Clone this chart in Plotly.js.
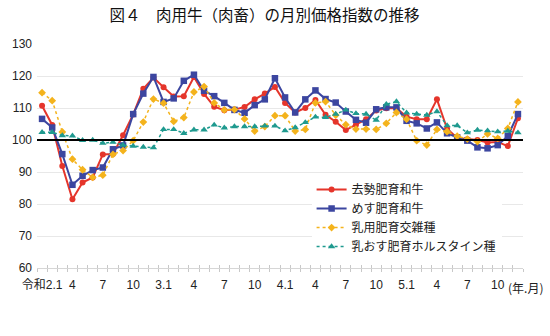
<!DOCTYPE html>
<html><head><meta charset="utf-8">
<script src="https://cdn.plot.ly/plotly-3.0.1.min.js"></script>
<style>html,body{margin:0;padding:0;background:#fff}#chart{width:550px;height:336px}</style>
</head><body><div id="chart"></div>
<script>
// Months: 令和2年1月 (2020.1) .. 令和5年12月 (2023.12)
const months = [
 '2.1','2.2','2.3','2.4','2.5','2.6','2.7','2.8','2.9','2.10','2.11','2.12',
 '3.1','3.2','3.3','3.4','3.5','3.6','3.7','3.8','3.9','3.10','3.11','3.12',
 '4.1','4.2','4.3','4.4','4.5','4.6','4.7','4.8','4.9','4.10','4.11','4.12',
 '5.1','5.2','5.3','5.4','5.5','5.6','5.7','5.8','5.9','5.10','5.11','5.12'];
const seriesNames = ['去勢肥育和牛','めす肥育和牛','乳用肥育交雑種','乳おす肥育ホルスタイン種'];
const kyosei = [110.7,104.7,91.9,81.5,86.7,88.3,95.5,95.6,101.5,108,116,119.5,
 116.5,113.6,113.7,119.7,114.4,110.4,109.3,109.5,110.3,112.7,114.5,116.6,
 111.6,108.6,110,112.5,107.9,105.7,103.1,104.8,106.5,109.2,109.9,109.9,
 107.3,106.5,106.5,112.7,103.5,100.6,100.2,100,99.2,99.4,98.1,106.8];
const mesu = [106.6,103.9,95.6,86,88.8,90.6,91.4,97.1,98.3,108.1,114.5,119.7,
 111.9,113,118.5,120.4,115.4,113.7,111.6,109.4,108.5,110.9,112.7,119.3,
 113.3,108.6,112.7,115.5,112.8,111.7,108.9,106.3,105.4,109.6,110.2,110.2,
 106,105.2,103.6,105.5,102.1,100.8,99.8,97.7,97.4,98.4,101.2,108.1];
const kozatsu = [114.8,112.3,102.5,94,90.7,88.3,89,95.5,96.7,99.8,105.6,112.8,
 111.5,105.8,107,115,116.7,111.6,109.4,109.5,106.6,102.8,104.2,107.6,
 107.6,102.8,103.3,111.6,112,107.8,104.8,103.4,103.4,103.3,105.2,108.6,
 106.5,99.8,98.4,103.3,102.6,101.2,100.3,99.5,101.9,100.5,103.6,111.9];
const holstein = [102.4,102.4,101.4,101.3,99.9,100,99,99.3,98.4,98.1,97.8,97.6,
 103.3,103.3,102.1,103.2,103.2,104.7,103.8,104.2,104.2,104.2,104.4,104.4,
 102.9,103.9,105.5,107.2,107.1,108.1,109.4,108.3,108.1,106.2,111.2,112,
 108.5,108.1,107.8,108.9,104.5,104.5,102.3,103.1,102.9,102.6,102.8,102.3];
const tickIdx = [0,3,6,9,12,15,18,21,24,27,30,33,36,39,42,45];
const tickText = ['令和2.1','4','7','10','3.1','4','7','10','4.1','4','7','10','5.1','4','7','10'];
const baseValue = 100;

const xi = months.map((m,i)=>i);
const FONT = 'Liberation Sans, Arial, Noto Sans CJK JP, sans-serif';
const JP = 'Noto Sans CJK JP, sans-serif';

const traces = [
 {x:xi, y:kyosei, name:seriesNames[0], mode:'lines+markers', line:{color:'#e5352b', width:2},
  marker:{symbol:'circle', size:6, color:'#e5352b'}},
 {x:xi, y:mesu, name:seriesNames[1], mode:'lines+markers', line:{color:'#3c46a0', width:2},
  marker:{symbol:'square', size:6.5, color:'#3c46a0'}},
 {x:xi, y:kozatsu, name:seriesNames[2], mode:'lines+markers', line:{color:'#f4b31c', width:1.5, dash:'dot'},
  marker:{symbol:'diamond', size:6, color:'#f4b31c'}},
 {x:xi, y:holstein, name:seriesNames[3], mode:'lines+markers', line:{color:'#1f9a8f', width:1.5, dash:'dot'},
  marker:{symbol:'triangle-up', size:6.5, color:'#1f9a8f'}},
 {x:[0], y:[null], xaxis:'x2', yaxis:'y', showlegend:false, hoverinfo:'skip', mode:'lines'}
];

const layout = {
 width:550, height:336,
 margin:{l:37, r:27, t:44, b:68},
 paper_bgcolor:'#fff', plot_bgcolor:'#fff',
 font:{family:FONT, size:12, color:'#222'},
 title:{text:'図４　肉用牛（肉畜）の月別価格指数の推移', font:{family:JP, size:15.5, color:'#111'},
  x:0.468, xref:'paper', xanchor:'center', y:0.955, yref:'container', yanchor:'middle'},
 showlegend:true,
 legend:{x:0.565, y:0.415, xanchor:'left', yanchor:'top', bgcolor:'#fff', borderwidth:0,
  font:{family:JP, size:12, color:'#222'}, itemwidth:30, tracegroupgap:0},
 xaxis:{range:[-0.5, 47.5], tickmode:'array', tickvals:tickIdx, ticktext:tickText,
  ticks:'', showgrid:false, zeroline:false, showline:true, linecolor:'#d6d6d6', linewidth:1,
  tickfont:{family:FONT, size:12, color:'#222'}, ticklabelstandoff:6,
  minor:{tickmode:'linear', tick0:-0.5, dtick:1, ticks:'outside', ticklen:3, tickcolor:'#c8c8c8', showgrid:false}},
 xaxis2:{overlaying:'x', matches:'x', anchor:'y', side:'bottom', range:[-0.5,47.5],
  tickmode:'linear', tick0:-0.5, dtick:1, ticks:'inside', ticklen:3, tickcolor:'#c8c8c8',
  showticklabels:false, showgrid:false, zeroline:false, showline:false},
 yaxis:{range:[60,130], dtick:10, tick0:60, ticks:'', showgrid:true, gridcolor:'#e8e8e8', gridwidth:1,
  zeroline:false, showline:false, tickfont:{family:FONT, size:12, color:'#222'}, ticklabelstandoff:4},
 shapes:[{type:'line', xref:'paper', x0:0, x1:1, yref:'y', y0:baseValue, y1:baseValue,
  line:{color:'#000', width:2}}],
 annotations:[
  {text:'(年.月)', xref:'x', x:45, xshift:8, xanchor:'left', yref:'paper', y:-0.085, yanchor:'middle',
   showarrow:false, font:{family:JP, size:12, color:'#222'}},
  {text:'資料：農林水産省「農業物価指数」', xref:'container', x:35/550, xanchor:'left',
   yref:'container', y:1-307/336, yanchor:'middle', showarrow:false, font:{family:JP, size:12, color:'#222'}},
  {text:'注：令和２年平均＝ 100とする指数。', xref:'container', x:47/550, xanchor:'left',
   yref:'container', y:1-324/336, yanchor:'middle', showarrow:false, font:{family:JP, size:12, color:'#222'}}
 ]
};
Plotly.newPlot('chart', traces, layout, {displayModeBar:false, staticPlot:true});
</script></body></html>
